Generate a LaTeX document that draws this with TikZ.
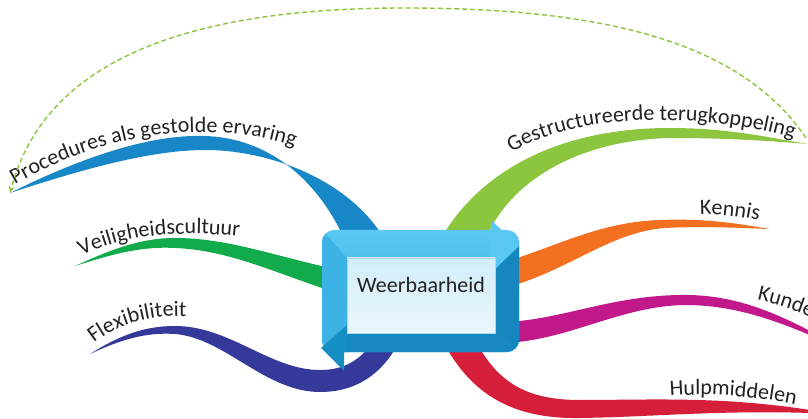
\documentclass[tikz,border=0pt]{standalone}
\usepackage{fontspec}
\setmainfont{Carlito}
\usetikzlibrary{decorations.text,arrows.meta}
\definecolor{txt}{HTML}{222222}
\definecolor{cBlue}{HTML}{1787C8}
\definecolor{cGreen}{HTML}{12AB4B}
\definecolor{cNavy}{HTML}{35399A}
\definecolor{cLime}{HTML}{8CC63F}
\definecolor{cOrange}{HTML}{F37021}
\definecolor{cMagenta}{HTML}{C1198A}
\definecolor{cRed}{HTML}{D41E3A}
\definecolor{boxTop}{HTML}{5AC8F2}
\definecolor{boxMid}{HTML}{34ACE2}
\definecolor{boxLeft}{HTML}{3DB2E5}
\definecolor{boxDark}{HTML}{1586BE}
\definecolor{boxDarkB}{HTML}{1889C0}
\definecolor{boxHead}{HTML}{168FC5}
\definecolor{panTop}{HTML}{D2EDF9}
\definecolor{panBot}{HTML}{EAF7FC}
\definecolor{panEdge}{HTML}{A9D9EE}
\newcommand\lblfont{\fontsize{22pt}{26pt}\selectfont\color{txt}}
\begin{document}
\begin{tikzpicture}[x=1pt,y=-1pt,
  lbl/.style={decorate,decoration={text along path,text align=left,text={|\lblfont|#1}}},
  fbline/.style={draw=cLime,line width=1.4pt,dash pattern=on 5pt off 3pt,-{Stealth[length=7pt,width=6pt]}},
  branchfill/.style={fill=#1,draw=none}]
\useasboundingbox (0,0) rectangle (808,419);
\fill[white] (0,0) rectangle (808,419);

% named end points
\coordinate (procTip) at (10,193);
\coordinate (fbStart) at (806,138);
\coordinate (fbTop) at (404,8);

% blue branch
\path[branchfill=cBlue] (procTip) .. controls (80,158) and (150,134) .. (205,136)
  .. controls (265,138) and (315,175) .. (345,240) -- (385,240)
  .. controls (350,180) and (270,150) .. (205,150)
  .. controls (150,150) and (80,170) .. (procTip) -- cycle;
\path[lbl={Procedures als gestolde ervaring}] (15,185) .. controls (90,140) and (200,112) .. (305,150) -- (340,168);

% green branch
\path[branchfill=cGreen] (75,266) .. controls (110,250) and (140,238) .. (175,238)
  .. controls (230,238) and (280,258) .. (340,270) -- (340,294)
  .. controls (280,275) and (230,250) .. (175,248)
  .. controls (140,246) and (110,255) .. (75,266) -- cycle;
\path[lbl={Veiligheidscultuur}] (82,256) .. controls (120,236) and (180,228) .. (250,238) -- (290,246);

% navy branch
\path[branchfill=cNavy] (90,354) .. controls (120,335) and (145,326) .. (175,326)
  .. controls (230,326) and (270,370) .. (320,370)
  .. controls (345,370) and (360,360) .. (375,340) -- (400,340)
  .. controls (385,370) and (360,392) .. (320,392)
  .. controls (265,392) and (225,338) .. (175,334)
  .. controls (145,332) and (120,340) .. (90,354) -- cycle;
\path[lbl={Flexibiliteit}] (94,343) .. controls (120,322) and (160,312) .. (205,318) -- (240,326);

% lime branch
\path[branchfill=cLime] (440,240) .. controls (480,170) and (560,128) .. (670,128)
  .. controls (730,128) and (770,138) .. (808,144)
  .. controls (770,141) and (730,138) .. (670,138)
  .. controls (580,140) and (510,180) .. (485,240) -- cycle;
\path[lbl={Gestructureerde terugkoppeling}] (512,153) .. controls (570,115) and (700,108) .. (806,142) -- (840,155);

% orange branch
\path[branchfill=cOrange] (505,262) .. controls (560,245) and (600,222) .. (660,220)
  .. controls (710,218) and (745,225) .. (770,229)
  .. controls (740,228) and (705,226) .. (665,228)
  .. controls (610,232) and (570,270) .. (505,288) -- cycle;
\path[lbl={Kennis}] (700,215) .. controls (720,214) and (740,216) .. (770,223) -- (800,232);

% magenta branch
\path[branchfill=cMagenta] (505,322) .. controls (560,320) and (610,296) .. (680,295)
  .. controls (730,294) and (770,310) .. (812,332) -- (812,336)
  .. controls (770,318) and (730,305) .. (685,305)
  .. controls (620,306) and (570,340) .. (505,343) -- cycle;
\path[lbl={Kunde}] (757,300) .. controls (780,305) and (800,312) .. (830,325) -- (860,340);

% red branch
\path[branchfill=cRed] (478,345) .. controls (500,385) and (530,400) .. (580,400)
  .. controls (650,400) and (720,396) .. (810,410) -- (810,413)
  .. controls (720,410) and (650,417) .. (580,418)
  .. controls (520,419) and (475,400) .. (445,345) -- cycle;
\path[lbl={Hulpmiddelen}] (670,396) .. controls (710,393) and (760,396) .. (810,408) -- (840,415);

% feedback dashed arrow
\draw[fbline] (fbStart) .. controls (740,40) and (600,8) .. (fbTop)
  .. controls (150,8) and (40,80) .. (procTip);

% central box
\begin{scope}
  \clip[rounded corners=12pt] (322,230) rectangle (519,352);
  \shade[top color=boxTop,bottom color=boxMid] (322,230) rectangle (519,352);
  \fill[boxLeft] (322,230) -- (347,258) -- (347,333) -- (322,352) -- cycle;
  \fill[boxDark] (496,268) -- (519,246) -- (519,352) -- (496,333) -- cycle;
  \fill[boxDarkB] (347,333) -- (496,333) -- (519,352) -- (322,352) -- cycle;
\end{scope}
\fill[boxTop] (490,231) -- (492,221) -- (519,246) -- (496,268) -- (490,258) -- cycle;
\fill[boxHead] (347,325) -- (321,348) -- (344,371) -- (344,352) -- (347,352) -- cycle;
\shade[top color=panTop,bottom color=panBot,draw=panEdge] (347,258) rectangle (495,333);
\node[font=\fontsize{22pt}{26pt}\selectfont,text=txt,anchor=base] (center) at (421,293) {Weerbaarheid};
\end{tikzpicture}
\end{document}
